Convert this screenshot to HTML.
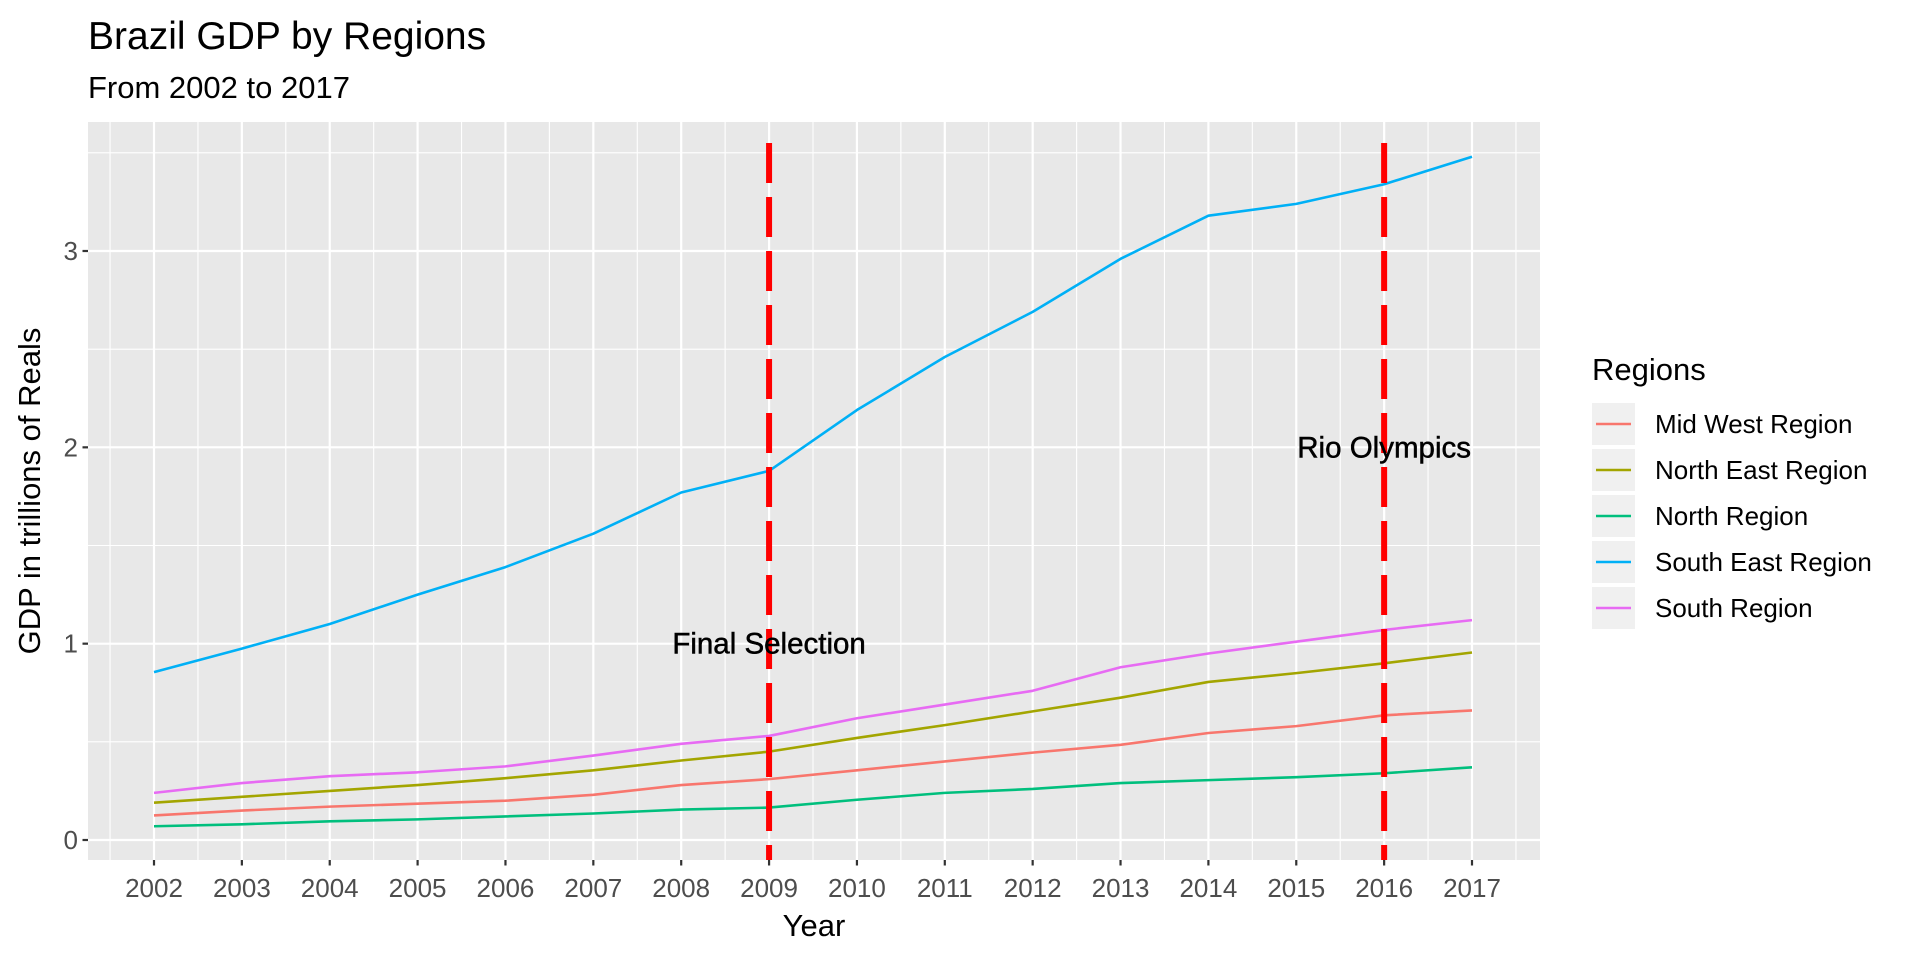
<!DOCTYPE html>
<html><head><meta charset="utf-8"><style>
html,body{margin:0;padding:0;background:#fff;}
svg{display:block;font-family:"Liberation Sans",Arial,sans-serif;}
</style></head><body>
<svg id="chart" width="1920" height="960" viewBox="0 0 1920 960" xmlns="http://www.w3.org/2000/svg">
<text x="88" y="49" font-size="39" fill="#000">Brazil GDP by Regions</text>
<text x="88" y="98" font-size="31" fill="#000">From 2002 to 2017</text>
<rect x="88" y="122" width="1452" height="738" fill="#e8e8e8"/>
<g id="grid"></g><g id="series"></g><g id="events"></g><g id="axes"></g>
<text x="814" y="936" font-size="31" text-anchor="middle" fill="#000">Year</text>
<text transform="translate(40,491) rotate(-90)" font-size="31" text-anchor="middle" fill="#000">GDP in trillions of Reals</text>
<text x="1592" y="380" font-size="31" fill="#000">Regions</text>
<g id="legend"></g>
</svg>
<script>
const years=[2002,2003,2004,2005,2006,2007,2008,2009,2010,2011,2012,2013,2014,2015,2016,2017];
const seriesNames=["Mid West Region","North East Region","North Region","South East Region","South Region"];
const seriesColors=["#F8766D","#A3A500","#00BF7D","#00B0F6","#E76BF3"];
const midWest=[0.125,0.15,0.17,0.185,0.20,0.23,0.28,0.31,0.355,0.40,0.445,0.485,0.545,0.58,0.635,0.66];
const northEast=[0.19,0.22,0.25,0.28,0.315,0.355,0.405,0.45,0.52,0.585,0.655,0.725,0.805,0.85,0.90,0.955];
const north=[0.07,0.08,0.095,0.105,0.12,0.135,0.155,0.165,0.205,0.24,0.26,0.29,0.305,0.32,0.34,0.37];
const southEast=[0.855,0.975,1.10,1.25,1.39,1.56,1.77,1.88,2.19,2.46,2.69,2.96,3.18,3.24,3.34,3.48];
const south=[0.24,0.29,0.325,0.345,0.375,0.43,0.49,0.53,0.62,0.69,0.76,0.88,0.95,1.01,1.07,1.12];
const yTicks=[0,1,2,3];
const eventYears=[2009,2016];
const eventLabels=["Final Selection","Rio Olympics"];
const eventLabelValues=[1,2];

const NS="http://www.w3.org/2000/svg";
const xs=y=>154+(y-2002)*(1472-154)/15;
const ys=v=>840-v*(840-251)/3;
function mk(tag,attrs,parent){const e=document.createElementNS(NS,tag);for(const k in attrs)e.setAttribute(k,attrs[k]);parent.appendChild(e);return e;}
const grid=document.getElementById('grid'),ser=document.getElementById('series'),ev=document.getElementById('events'),ax=document.getElementById('axes'),lg=document.getElementById('legend');
for(let v=-0.5;v<=4;v+=1){const y=ys(v);if(y<122||y>860)continue;
 const l=mk('line',{x1:88,x2:1540,y1:y,y2:y,stroke:'#fff','stroke-width':1.1},grid);
 
 }
for(let yr=2001.5;yr<=2018;yr+=1){const x=xs(yr);if(x<88||x>1540)continue;
 const l=mk('line',{x1:x,x2:x,y1:122,y2:860,stroke:'#fff','stroke-width':1.1},grid);
 
 }
yTicks.forEach(v=>{const y=ys(v);
 const l=mk('line',{x1:88,x2:1540,y1:y,y2:y,stroke:'#fff','stroke-width':2.2},grid);
 
 
 const t=mk('line',{x1:82.5,x2:88,y1:y,y2:y,stroke:'#333','stroke-width':2.2},ax);
 
 
 const tx=mk('text',{x:78,y:y+9,'font-size':26,'text-anchor':'end',fill:'#4d4d4d'},ax);tx.textContent=v;
 
 });
years.forEach(yr=>{const x=xs(yr);
 const l=mk('line',{x1:x,x2:x,y1:122,y2:860,stroke:'#fff','stroke-width':2.2},grid);
 
 
 const t=mk('line',{x1:x,x2:x,y1:860,y2:865.5,stroke:'#333','stroke-width':2.2},ax);
 
 
 const tx=mk('text',{x:x,y:897,'font-size':26,'text-anchor':'middle',fill:'#4d4d4d'},ax);tx.textContent=yr;
 
 });
const allSeries=[midWest,northEast,north,southEast,south];
allSeries.forEach((vals,i)=>{
 const p=mk('polyline',{points:vals.map((v,j)=>xs(years[j])+','+ys(v)).join(' '),fill:'none',stroke:seriesColors[i],'stroke-width':2.6,'stroke-linejoin':'round'},ser);
 
 
 const ky=424+i*46;
 const r=mk('rect',{x:1592,y:ky-21,width:43,height:42,fill:'#f0f0f0'},lg);
 
 
 const kl=mk('line',{x1:1596,x2:1631,y1:ky,y2:ky,stroke:seriesColors[i],'stroke-width':2.6},lg);
 
 
 const t=mk('text',{x:1655,y:ky+9,'font-size':26,fill:'#000'},lg);t.textContent=seriesNames[i];
 
 });
eventYears.forEach((yr,i)=>{const x=xs(yr);
 const l=mk('line',{x1:x,x2:x,y1:143,y2:860,stroke:'#ff0000','stroke-width':6,'stroke-dasharray':'40 14'},ev);
 
 
 const t=mk('text',{x:x,y:ys(eventLabelValues[i])+10,'font-size':29.5,'text-anchor':'middle',fill:'#000',stroke:'#000','stroke-width':0.5},ev);t.textContent=eventLabels[i];
 
 });
</script>
</body></html>
